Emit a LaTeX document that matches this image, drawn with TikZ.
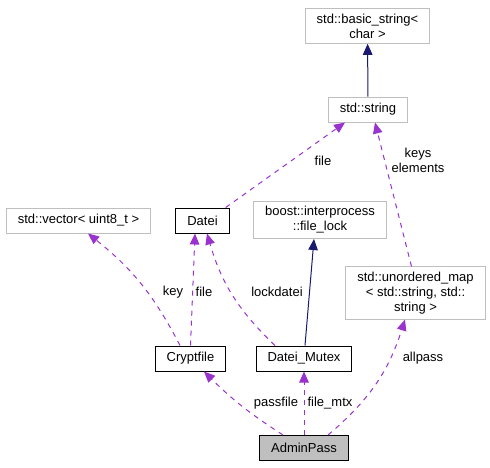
\documentclass[tikz,border=0pt]{standalone}
\usepackage{fontspec}
\setmainfont{Liberation Sans}
\usepackage{xcolor}
\usetikzlibrary{arrows.meta}
\definecolor{edgepurple}{HTML}{9A32CD}
\definecolor{edgenavy}{HTML}{191970}
\definecolor{linegray}{HTML}{BFBFBF}
\definecolor{boxgray}{HTML}{BFBFBF}

\begin{document}
\begin{tikzpicture}[
  x=1pt, y=-1pt,
  font=\fontsize{13}{15}\selectfont,
  cls/.style={
    draw=black,
    line width=1pt,
    fill=white,
    inner xsep=11.5pt,
    inner ysep=5pt,
    minimum height=25pt,
    align=center
  },
  extcls/.style={cls, draw=linegray},
  usage/.style={
    edgepurple,
    line width=1pt,
    dash pattern=on 5pt off 5pt,
    -{Triangle[length=11pt,width=9.5pt]}
  },
  inherit/.style={
    edgenavy,
    line width=1pt,
    -{Triangle[length=11pt,width=9.5pt]}
  },
  lbl/.style={inner sep=1pt, align=center}
]
  \useasboundingbox (0,0) rectangle (490,467);

  % classes
  \node[extcls] (basic) at (367.5,26) {std::basic\_string<\\char >};
  \node[extcls] (string) at (368,109.5) {std::string};
  \node[extcls] (vector) at (78.5,220.5) {std::vector< uint8\_t >};
  \node[cls] (datei) at (202.5,220.5) {Datei};
  \node[extcls] (boost) at (320,220) {boost::interprocess\\::file\_lock};
  \node[extcls] (umap) at (415.5,293) {std::unordered\_map\\< std::string, std::\hspace*{11.5pt}\\string >};
  \node[cls] (crypt) at (190.5,358.5) {Cryptfile};
  \node[cls] (mutex) at (304,358.5) {Datei\_Mutex};
  \node[cls, fill=boxgray] (admin) at (304,448) {AdminPass};

  % connectors
  \draw[inherit] (string) -- (basic);
  \draw[usage] ([xshift=-4pt]datei.north east) -- ([xshift=-23pt]string.south);
  \draw[usage] ([xshift=-4pt]umap.north) -- ([xshift=7pt]string.south);
  \draw[usage] ([xshift=-10.5pt]crypt.north) to[bend right=12] ([xshift=9.5pt]vector.south);
  \draw[usage] (crypt.north) -- ([xshift=-7.5pt]datei.south);
  \draw[usage] ([xshift=-29pt]mutex.north) to[bend left=15] ([xshift=4.5pt]datei.south);
  \draw[inherit] ([xshift=1pt]mutex.north) -- ([xshift=-6pt]boost.south);
  \draw[usage] ([xshift=-21pt]admin.north) to[bend left=6] ([xshift=13.5pt]crypt.south);
  \draw[usage] (admin) -- (mutex);
  \draw[usage] ([xshift=24pt]admin.north) to[bend right=16] ([xshift=-10.5pt]umap.south);

  % labels
  \node[lbl] (lfile) at (323,161) {file};
  \node[lbl] (lkeys) at (418,160) {keys\\elements};
  \node[lbl] (lkey) at (173,292) {key};
  \node[lbl] (lcfile) at (204,292) {file};
  \node[lbl] (llock) at (277,292) {lockdatei};
  \node[lbl] (lpass) at (276,403) {passfile};
  \node[lbl] (lmtx) at (330,403) {file\_mtx};
  \node[lbl] (lall) at (423,358) {allpass};
\end{tikzpicture}
\end{document}
